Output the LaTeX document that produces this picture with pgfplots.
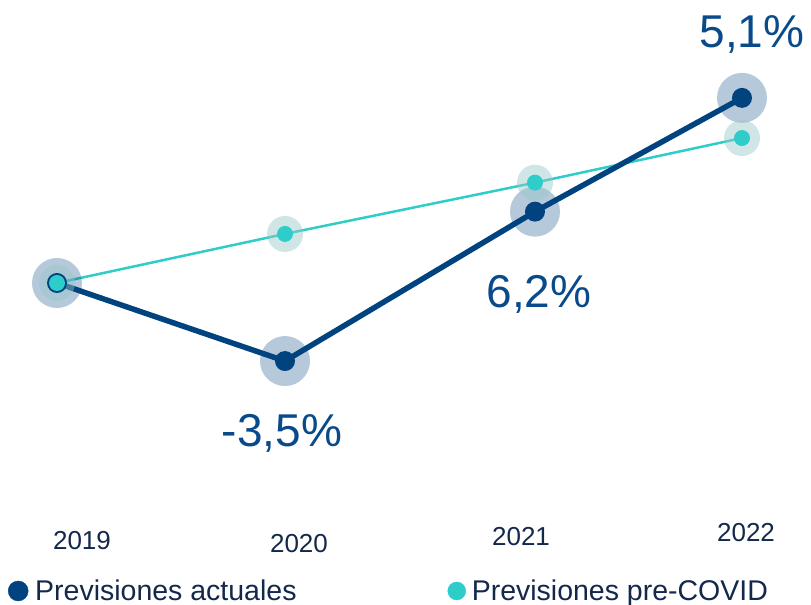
\documentclass[border=0pt]{standalone}
\usepackage{fontspec}
\setmainfont{Liberation Sans}
\usepackage{pgfplots}
\usepackage{pgfplotstable}
\pgfplotsset{compat=1.18}
\definecolor{dblue}{HTML}{00437F}
\definecolor{teal2}{HTML}{2FCDCA}
\definecolor{tealhalo}{RGB}{150,200,200}
\definecolor{navy}{HTML}{13284A}
\definecolor{lblue}{HTML}{084A8A}
\pgfplotstableread{
x actual precovid
57 100 100
285 96.5 102.2
535 103.2 104.5
742 108.3 106.5
}\data
\begin{document}
\begin{tikzpicture}
\begin{axis}[hide axis, scale only axis, width=811bp, height=605bp,
  xmin=0, xmax=811, ymin=85.561, ymax=112.69, clip=false,
  legend columns=2,
  legend cell align=left,
  legend style={at={(axis cs:8,86.19)}, anchor=west, draw=none, fill=none,
    inner sep=0pt, outer sep=0pt,
    font=\fontsize{28.5bp}{32bp}\selectfont, text=navy,
    /tikz/every even column/.append style={column sep=149bp}},
]
% halos
\addplot[color=dblue, only marks, mark=*, mark size=25bp, mark options={draw opacity=0, fill=dblue, fill opacity=0.286}, forget plot] table[x=x, y=actual] {\data};
\addplot[color=tealhalo, only marks, mark=*, mark size=18bp, mark options={draw opacity=0, fill=tealhalo, fill opacity=0.45}, forget plot] table[x=x, y=precovid] {\data};
% lines
\addplot[teal2, line width=2.5bp, mark=none, forget plot] table[x=x, y=precovid] {\data};
\addplot[dblue, line width=5.5bp, mark=none, forget plot] table[x=x, y=actual] {\data};
% dots
\addplot[color=dblue, only marks, mark=*, mark size=10bp, mark options={draw opacity=0, fill=dblue}, forget plot] table[x=x, y=actual] {\data};
\addplot[color=teal2, only marks, mark=*, mark size=8bp, mark options={draw opacity=0, fill=teal2}, forget plot] table[x=x, y=precovid] {\data};
% legend
\addlegendimage{legend image code/.code={\path[draw=none,fill=none] (-10bp,-10bp) rectangle (15bp,10bp); \fill[dblue] (0bp,0bp) circle (10bp);}}
\addlegendentry{Previsiones actuales}
\addlegendimage{legend image code/.code={\path[draw=none,fill=none] (-9bp,-9bp) rectangle (13bp,9bp); \fill[teal2] (0bp,0bp) circle (9bp);}}
\addlegendentry{Previsiones pre-COVID}
% tick labels
\node[anchor=base, font=\fontsize{26bp}{30bp}\selectfont, text=navy] at (axis cs:82,88.03) {2019};
\node[anchor=base, font=\fontsize{26bp}{30bp}\selectfont, text=navy] at (axis cs:299,87.91) {2020};
\node[anchor=base, font=\fontsize{26bp}{30bp}\selectfont, text=navy] at (axis cs:521,88.25) {2021};
\node[anchor=base, font=\fontsize{26bp}{30bp}\selectfont, text=navy] at (axis cs:746,88.43) {2022};
% value labels
\node[anchor=base, font=\fontsize{46bp}{50bp}\selectfont, text=lblue] at (axis cs:282,92.65) {-3,5\%};
\node[anchor=base, font=\fontsize{46bp}{50bp}\selectfont, text=lblue] at (axis cs:539,98.92) {6,2\%};
\node[anchor=base, font=\fontsize{46bp}{50bp}\selectfont, text=lblue] at (axis cs:752,110.58) {5,1\%};
\end{axis}
\pgfresetboundingbox
\path[use as bounding box] (current axis.south west) rectangle (current axis.north east);
\end{tikzpicture}
\end{document}
